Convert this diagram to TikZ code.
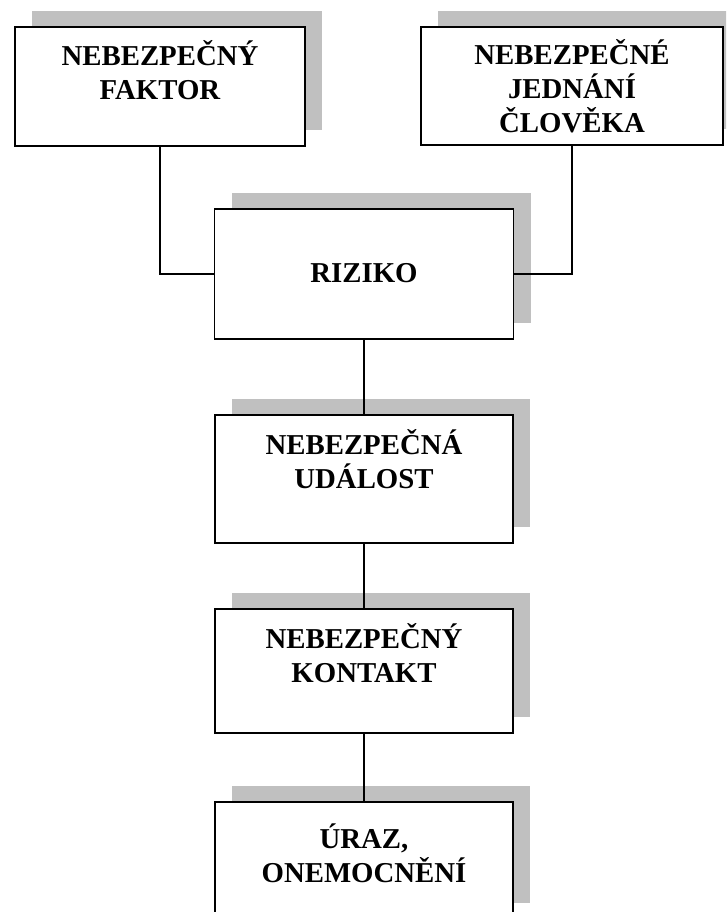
\documentclass[tikz,border=0pt]{standalone}
\usepackage{fontspec}
\setmainfont{Liberation Serif}
\usetikzlibrary{shadows}
\definecolor{shadegray}{HTML}{C0C0C0}
\tikzset{
  box/.style={draw=black, fill=white, line width=1.9pt, inner sep=0pt,
    copy shadow={shadow xshift=17pt, shadow yshift=16pt, fill=shadegray, draw=none}},
  % anchor base sits on the last line of a multi-line label
  lbl/.style={font=\bfseries\fontsize{28.8}{34}\selectfont, align=center,
    inner sep=0pt, anchor=base},
  wire/.style={draw=black, line width=1.9pt}
}
\begin{document}
\begin{tikzpicture}[x=1pt, y=-1pt]
  \clip (0,0) rectangle (726,912);
  \fill[white] (0,0) rectangle (726,912);

  % boxes
  \node[box, minimum width=290pt, minimum height=119pt] (fac) at (160,86.5) {};
  \node[box, minimum width=302pt, minimum height=118pt] (act) at (572,86) {};
  \node[box, minimum width=299pt, minimum height=130pt] (riz) at (364,274) {};
  \node[box, minimum width=298pt, minimum height=128pt] (ev) at (364,479) {};
  \node[box, minimum width=298pt, minimum height=124pt] (con) at (364,671) {};
  \node[box, minimum width=298pt, minimum height=117pt] (inj) at (364,860.5) {};

  % connectors
  \draw[wire] (fac.south) |- (riz.west);
  \draw[wire] (act.south) |- (riz.east);
  \draw[wire] (riz.south) -- (ev.north);
  \draw[wire] (ev.south) -- (con.north);
  \draw[wire] (con.south) -- (inj.north);

  % texts (positioned by the baseline of their last line)
  \node[lbl] (facT) at (160,100) {NEBEZPEČNÝ\\FAKTOR};
  \node[lbl] (actT) at (572,133) {NEBEZPEČNÉ\\JEDNÁNÍ\\ČLOVĚKA};
  \node[lbl] (rizT) at (364,282) {RIZIKO};
  \node[lbl] (evT) at (364,488) {NEBEZPEČNÁ\\UDÁLOST};
  \node[lbl] (conT) at (364,682) {NEBEZPEČNÝ\\KONTAKT};
  \node[lbl] (injT) at (364,882) {ÚRAZ,\\ONEMOCNĚNÍ};
\end{tikzpicture}
\end{document}
